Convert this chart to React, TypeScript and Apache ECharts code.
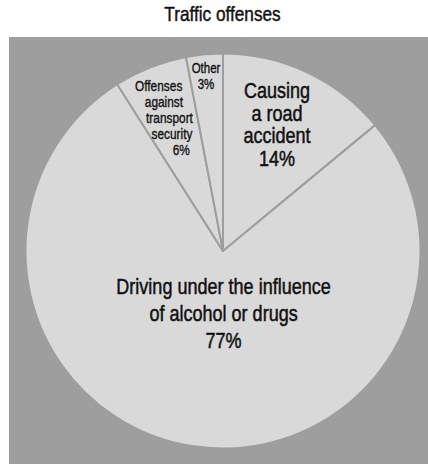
import React, { useEffect, useRef } from "react";
import * as echarts from "echarts";

const titleText = "Traffic offenses";
const categories = [
  "Causing a road accident",
  "Driving under the influence of alcohol or drugs",
  "Offenses against transport security",
  "Other",
];
const values = [14, 77, 6, 3];
const labelLines = [
  ["Causing", "a road", "accident"],
  ["Driving under the influence", "of alcohol or drugs"],
  ["Offenses", "against", "transport", "security"],
  ["Other"],
];

const FONT = '"Liberation Sans", Arial, sans-serif';
const NARROW = 0.82; // horizontal squeeze to imitate a condensed face
const BG = "#9e9e9e";
const PIE = "#d9d9d9";
const INK = "#111111";

export default function App() {
  const ref = useRef<HTMLDivElement>(null);
  useEffect(() => {
    if (!ref.current) return;
    const chart = echarts.init(ref.current, null, { renderer: "svg" });

    const cx = 223;
    const cy = 251;
    const radius = 197.5;

    // per-label style: font size, line height, offset from the slice's inner anchor, per-line shift
    const layouts = [
      { size: 22, lh: 22.5, offset: [12, -37.5], shifts: [0, 0, 0, 0], sw: 0.5 },
      { size: 22, lh: 27, offset: [16, -35], shifts: [0, 0, 0], sw: 0.5 },
      { size: 14.5, lh: 16, offset: [-28, -41.5], shifts: [0, 5.3, 10.8, 13.3, 22.6], sw: 0.35 },
      { size: 14, lh: 16, offset: [-7.7, -76.5], shifts: [0, 0], sw: 0.35 },
    ];

    const total = values.reduce((a, b) => a + b, 0);
    let cum = 0;
    const labelGraphics = categories.map((name, i) => {
      const mid = ((cum + values[i] / 2) / total) * Math.PI * 2;
      cum += values[i];
      const ax = cx + (radius / 2) * Math.sin(mid);
      const ay = cy - (radius / 2) * Math.cos(mid);
      const L = layouts[i];
      const lines = [...labelLines[i], `${values[i]}%`];
      const rich: Record<string, any> = {};
      lines.forEach((_, k) => {
        rich["l" + k] = {
          fontFamily: FONT,
          fontSize: L.size,
          lineHeight: L.lh,
          fill: INK,
          stroke: INK,
          lineWidth: L.sw,
          padding: [0, 0, 0, (2 * (L.shifts[k] || 0)) / NARROW],
        };
      });
      return {
        type: "text",
        silent: true,
        z: 100,
        x: ax + L.offset[0],
        y: ay + L.offset[1],
        scaleX: NARROW,
        style: {
          text: lines.map((t, k) => `{l${k}|${t}}`).join("\n"),
          rich,
          fontFamily: FONT,
          fontSize: L.size,
          lineHeight: L.lh,
          fill: INK,
          stroke: INK,
          lineWidth: L.sw,
          align: "center",
          verticalAlign: "middle",
        },
      };
    });

    chart.setOption({
      animation: false,
      graphic: [
        {
          type: "rect",
          z: -10,
          silent: true,
          shape: { x: 9, y: 37, width: 419, height: 427 },
          style: { fill: BG },
        },
        {
          type: "text",
          silent: true,
          x: 222.5,
          y: 13.5,
          scaleX: NARROW,
          style: {
            text: titleText,
            fontFamily: FONT,
            fontSize: 21,
            fill: INK,
            stroke: INK,
            lineWidth: 0.45,
            align: "center",
            verticalAlign: "middle",
          },
        },
        ...labelGraphics,
      ],
      series: [
        {
          type: "pie",
          name: titleText,
          center: [cx, cy],
          radius,
          startAngle: 90,
          clockwise: true,
          avoidLabelOverlap: false,
          silent: true,
          label: { show: false },
          labelLine: { show: false },
          itemStyle: { color: PIE, borderColor: BG, borderWidth: 2 },
          data: categories.map((name, i) => ({ name, value: values[i] })),
        },
      ],
    });
    return () => chart.dispose();
  }, []);
  return (
    <div
      ref={ref}
      style={{ position: "absolute", left: 0, top: 0, width: 428, height: 464 }}
    />
  );
}
